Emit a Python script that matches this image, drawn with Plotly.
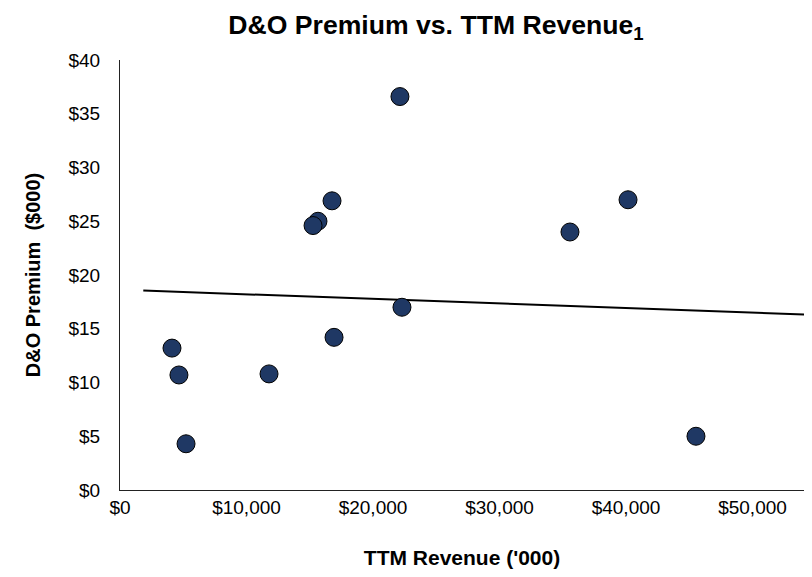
import plotly.graph_objects as go

# TTM revenue ('000) and D&O premium ($000)
revenue = [22130, 16760, 15650, 15260, 40160, 35570, 22290, 16920, 4110, 4660, 11780, 5220, 45530]
premium = [36.6, 26.9, 25.0, 24.6, 27.0, 24.0, 17.0, 14.2, 13.2, 10.7, 10.8, 4.3, 5.0]

# trend line end points
trend_x = [1840, 54700]
trend_y = [18.55, 16.3]

x_ticks = [0, 10000, 20000, 30000, 40000, 50000]
x_labels = ["$0", "$10,000", "$20,000", "$30,000", "$40,000", "$50,000"]
y_ticks = [0, 5, 10, 15, 20, 25, 30, 35, 40]
y_labels = ["$0", "$5", "$10", "$15", "$20", "$25", "$30", "$35", "$40"]

FONT = "Liberation Sans, Arial, sans-serif"

# page body has an 8px margin; size the figure so it fits the 812x577 window
W, H = 796, 561
OFF = 8

fig = go.Figure()
fig.add_trace(go.Scatter(
    x=trend_x, y=trend_y, mode="lines",
    line=dict(color="black", width=2), hoverinfo="skip", showlegend=False))
fig.add_trace(go.Scatter(
    x=revenue, y=premium, mode="markers",
    marker=dict(size=18, color="#1F3864", line=dict(color="black", width=1)),
    showlegend=False))

fig.update_layout(
    width=W, height=H,
    margin=dict(l=120 - OFF, r=0, t=60 - OFF, b=H - (490 - OFF)),
    paper_bgcolor="white", plot_bgcolor="white",
    font=dict(family=FONT, color="black"),
    title=dict(text="<b>D&O Premium vs. TTM Revenue<sub>1</sub></b>",
               x=(436 - OFF) / W, xref="container", xanchor="center",
               y=1 - (25 - OFF) / H, yref="container", yanchor="middle",
               font=dict(size=26.6, family=FONT, color="black")),
)
fig.update_xaxes(
    range=[0, 54070], tickvals=x_ticks, ticktext=x_labels, automargin=False,
    showgrid=False, zeroline=False, showline=True, linecolor="#222", linewidth=1,
    ticks="", ticklabelstandoff=0, tickfont=dict(size=19),
    title=dict(text="<b>TTM Revenue ('000)</b>", font=dict(size=21), standoff=39))
fig.update_yaxes(
    range=[0, 40], tickvals=y_ticks, ticktext=y_labels, automargin=False,
    showgrid=False, zeroline=False, showline=True, linecolor="#222", linewidth=1,
    ticks="", ticklabelstandoff=15, tickfont=dict(size=19),
    title=dict(text="<b>D&O Premium  ($000)</b>", font=dict(size=20), standoff=22))

fig.write_html("out.html")
